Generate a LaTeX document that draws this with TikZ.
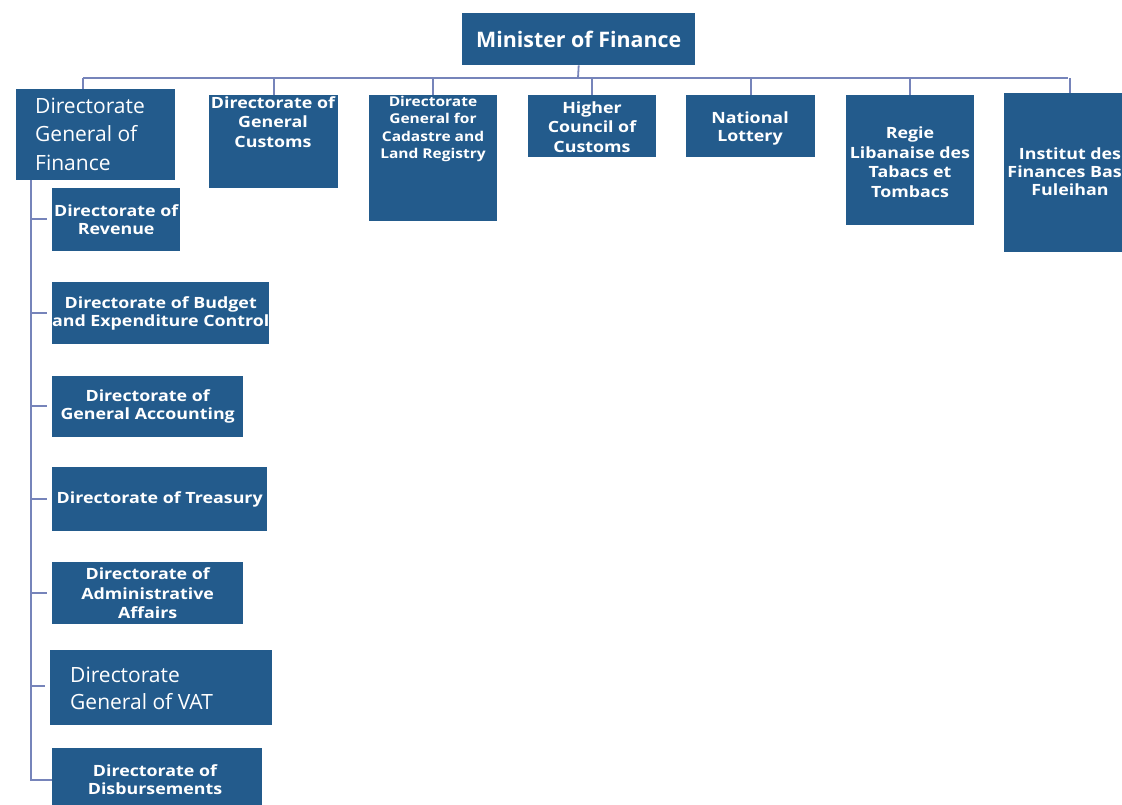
\documentclass[tikz,border=0pt]{standalone}
\usepackage{fontspec}
\setmainfont{Open Sans}
\newfontfamily\widefont{Open Sans}[FakeStretch=1.15]
\definecolor{boxblue}{RGB}{35,91,140}
\definecolor{linec}{RGB}{118,132,186}
\begin{document}
\begin{tikzpicture}[x=1pt,y=-1pt,
  bx/.style={fill=boxblue,draw=none,inner sep=0pt,anchor=north west,rectangle},
  tx/.style={text=white,align=center,inner sep=0pt,font=\widefont\bfseries\fontsize{15.5}{18}\selectfont},
  txt/.style={tx,font=\widefont\bfseries\fontsize{15.5}{19.5}\selectfont},
  txs/.style={text=white,align=center,inner sep=0pt,font=\widefont\bfseries\fontsize{13.5}{17.5}\selectfont},
  txr/.style={text=white,align=left,inner sep=0pt,anchor=west,font=\fontsize{21}{28.5}\selectfont},
  conn/.style={draw=linec,line width=1.8pt}]
\useasboundingbox (0,0) rectangle (1122,804);
\clip (0,0) rectangle (1122,804);
% top-level boxes
\node[bx,minimum width=233pt,minimum height=52pt] (min) at (462,13) {};
\node[text=white,inner sep=0pt,font=\bfseries\fontsize{21.4}{24}\selectfont] (mint) at (min.center) {Minister of Finance};
\node[bx,minimum width=159pt,minimum height=91pt] (dgf) at (16,89) {};
\node[bx,minimum width=129pt,minimum height=93pt] (dgc) at (209,95) {};
\node[bx,minimum width=128pt,minimum height=126pt] (cad) at (369,95) {};
\node[bx,minimum width=128pt,minimum height=62pt] (hcc) at (528,95) {};
\node[bx,minimum width=129pt,minimum height=62pt] (nl) at (686,95) {};
\node[bx,minimum width=128pt,minimum height=130pt] (reg) at (846,95) {};
\node[bx,minimum width=132pt,minimum height=159pt] (inst) at (1004,93) {};
% texts
\node[txr] (dgft) at (35,134) {Directorate\\General of\\Finance};
\node[txt] (dgct) at (273,122) {Directorate of\\General\\Customs};
\node[txs] (cadt) at (433,129) {Directorate\\General for\\Cadastre and\\Land Registry};
\node[txt] (hcct) at (592,127) {Higher\\Council of\\Customs};
\node[tx] (nlt) at (750,128) {National\\Lottery};
\node[txt] (regt) at (910,162) {Regie\\Libanaise des\\Tabacs et\\Tombacs};
\node[tx] (instt) at (1070,172) {Institut des\\Finances Basil\\Fuleihan};
% sub boxes
\node[bx,minimum width=128pt,minimum height=63pt] (rev) at (52,188) {};
\node[bx,minimum width=217pt,minimum height=62pt] (bud) at (52,282) {};
\node[bx,minimum width=191pt,minimum height=61pt] (acc) at (52,376) {};
\node[bx,minimum width=215pt,minimum height=64pt] (tre) at (52,467) {};
\node[bx,minimum width=191pt,minimum height=62pt] (adm) at (52,562) {};
\node[bx,minimum width=222pt,minimum height=75pt] (vat) at (50,650) {};
\node[bx,minimum width=210pt,minimum height=70pt] (dis) at (52,748) {};
\node[tx] (revt) at (rev.center) {Directorate of\\Revenue};
\node[tx] (budt) at (bud.center) {Directorate of Budget\\and Expenditure Control};
\node[tx] (acct) at (acc.center) {Directorate of\\General Accounting};
\node[tx] (tret) at (tre.center) {Directorate of Treasury};
\node[txt] (admt) at (adm.center) {Directorate of\\Administrative\\Affairs};
\node[txr,font=\fontsize{21}{27}\selectfont] (vatt) at (70,688) {Directorate\\General of VAT};
\node[tx] (dist) at (155,780) {Directorate of\\Disbursements};
% connectors top
\coordinate (bus) at (578,78);
\draw[conn] (min.south) -- (bus);
\draw[conn] (83,78) -- (1068,78);
\draw[conn] (dgf.north -| 83,0) -- (83,78);
\foreach \b in {dgc,cad,hcc,nl,reg,inst}{
  \draw[conn] (\b.north) -- (\b.north |- bus);
}
% left spine
\coordinate (sp) at (31,0);
\draw[conn] (dgf.south -| sp) -- (sp |- 0,780) -- (dis.west |- 0,780);
\foreach \b/\yy in {rev/219,bud/313,acc/406,tre/499,adm/593,vat/686}{
  \draw[conn,line width=1.2pt] (sp |- 0,\yy) -- ([xshift=-5pt]\b.west |- 0,\yy);
}
\end{tikzpicture}
\end{document}
